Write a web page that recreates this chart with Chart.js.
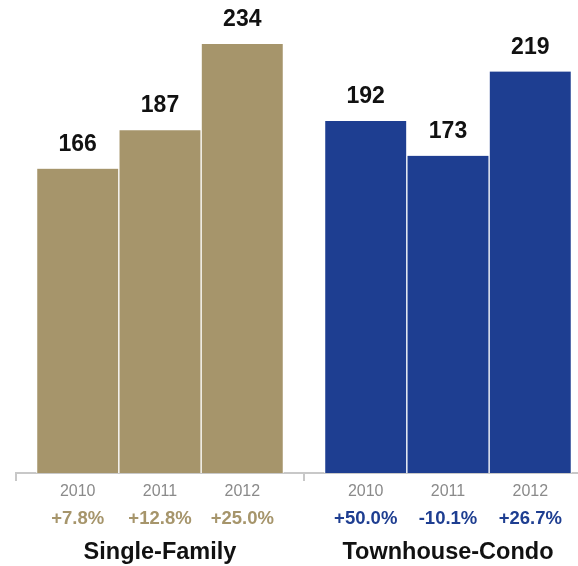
<!DOCTYPE html>
<html>
<head>
<meta charset="utf-8">
<script src="https://cdn.jsdelivr.net/npm/chart.js@4.4.1/dist/chart.umd.min.js"></script>
<style>
  body { margin: 0; background: #fff; }
  #wrap { width: 578px; height: 566px; position: relative; }
</style>
</head>
<body>
<div id="wrap"><canvas id="myChart"></canvas></div>
<script>
const years = ['2010', '2011', '2012'];
const groups = ['Single-Family', 'Townhouse-Condo'];
const singleFamily = [166, 187, 234];
const townhouseCondo = [192, 173, 219];
const singleFamilyChange = ['+7.8%', '+12.8%', '+25.0%'];
const townhouseCondoChange = ['+50.0%', '-10.1%', '+26.7%'];

const TAN = 'rgb(166,149,107)';
const BLUE = 'rgb(30,62,145)';
const FONT = "'Liberation Sans', Arial, Helvetica, sans-serif";

// each group takes 3 slots, with half a slot between the groups
const groupStep = years.length + 0.5;
const slot = (g, i) => g * groupStep + i;
const barSlots = [0, 1].flatMap(g => years.map((y, i) => slot(g, i)));
const edgeTicks = [-0.75, groupStep - 0.75];
const groupCenters = [0, 1].map(g => slot(g, (years.length - 1) / 2));
const changes = singleFamilyChange.concat(townhouseCondoChange);
const yearTicks = edgeTicks.concat(barSlots).sort((a, b) => a - b);

const X_MIN = -0.75;
const X_MAX = 6.08;

function toPoints(values, g) {
    return values.map((v, i) => ({ x: slot(g, i), y: v }));
}

function setTicks(values) {
    return function (scale) {
        scale.ticks = values.map(v => ({ value: v }));
    };
}

const valueLabels = {
    id: 'valueLabels',
    afterDatasetsDraw(chart) {
        const ctx = chart.ctx;
        ctx.save();
        ctx.font = 'bold 23px ' + FONT;
        ctx.fillStyle = '#111';
        ctx.textAlign = 'center';
        ctx.textBaseline = 'alphabetic';
        chart.data.datasets.forEach((ds, di) => {
            chart.getDatasetMeta(di).data.forEach((bar, i) => {
                ctx.fillText(ds.data[i].y, bar.x, bar.y - 18);
            });
        });
        ctx.restore();
    }
};

new Chart(document.getElementById('myChart'), {
    type: 'bar',
    data: {
        datasets: [{
            label: groups[0],
            data: toPoints(singleFamily, 0),
            xAxisID: 'x2',
            backgroundColor: TAN,
            borderColor: '#fff',
            borderWidth: { left: 1, right: 1, top: 0, bottom: 0 }
        }, {
            label: groups[1],
            data: toPoints(townhouseCondo, 1),
            xAxisID: 'x2',
            backgroundColor: BLUE,
            borderColor: '#fff',
            borderWidth: { left: 1, right: 1, top: 0, bottom: 0 }
        }]
    },
    options: {
        responsive: true,
        maintainAspectRatio: false,
        animation: false,
        grouped: false,
        barPercentage: 1,
        categoryPercentage: 1,
        layout: { padding: { left: 16, right: 0, top: 0, bottom: 0 } },
        plugins: {
            legend: { display: false },
            tooltip: { enabled: false }
        },
        scales: {
            y: {
                display: false,
                min: 0,
                max: 258
            },
            x: {
                type: 'linear',
                position: 'bottom',
                weight: 0,
                offset: false,
                min: X_MIN,
                max: X_MAX,
                afterBuildTicks: setTicks(yearTicks),
                afterFit: s => { s.height = 26; },
                border: { display: true, color: '#c8c8c8', width: 2 },
                grid: {
                    offset: false,
                    drawOnChartArea: false,
                    drawTicks: true,
                    tickLength: 8,
                    lineWidth: 2,
                    color: c => (c.tick && edgeTicks.includes(c.tick.value)) ? '#c8c8c8' : 'rgba(0,0,0,0)'
                },
                ticks: {
                    autoSkip: false,
                    maxRotation: 0,
                    minRotation: 0,
                    padding: 1,
                    color: '#8a8a8a',
                    font: { family: FONT, size: 16 },
                    callback: function (value) {
                        const k = barSlots.indexOf(value);
                        return k < 0 ? '' : years[k % years.length];
                    }
                }
            },
            x2: {
                type: 'linear',
                position: 'bottom',
                weight: 1,
                offset: false,
                min: X_MIN,
                max: X_MAX,
                afterBuildTicks: setTicks(barSlots),
                afterFit: s => { s.height = 28; },
                border: { display: false },
                grid: { display: false, drawTicks: false, offset: false },
                ticks: {
                    autoSkip: false,
                    maxRotation: 0,
                    minRotation: 0,
                    padding: 9,
                    color: c => c.index < years.length ? TAN : BLUE,
                    font: { family: FONT, size: 18.5, weight: 'bold' },
                    callback: (value, index) => changes[index]
                }
            },
            x3: {
                type: 'linear',
                position: 'bottom',
                weight: 2,
                offset: false,
                min: X_MIN,
                max: X_MAX,
                afterBuildTicks: setTicks(groupCenters),
                afterFit: s => { s.height = 39; },
                border: { display: false },
                grid: { display: false, drawTicks: false, offset: false },
                ticks: {
                    autoSkip: false,
                    maxRotation: 0,
                    minRotation: 0,
                    padding: 11,
                    color: '#111',
                    font: { family: FONT, size: 23.5, weight: 'bold' },
                    callback: (value, index) => groups[index]
                }
            }
        }
    },
    plugins: [valueLabels]
});
</script>
</body>
</html>
